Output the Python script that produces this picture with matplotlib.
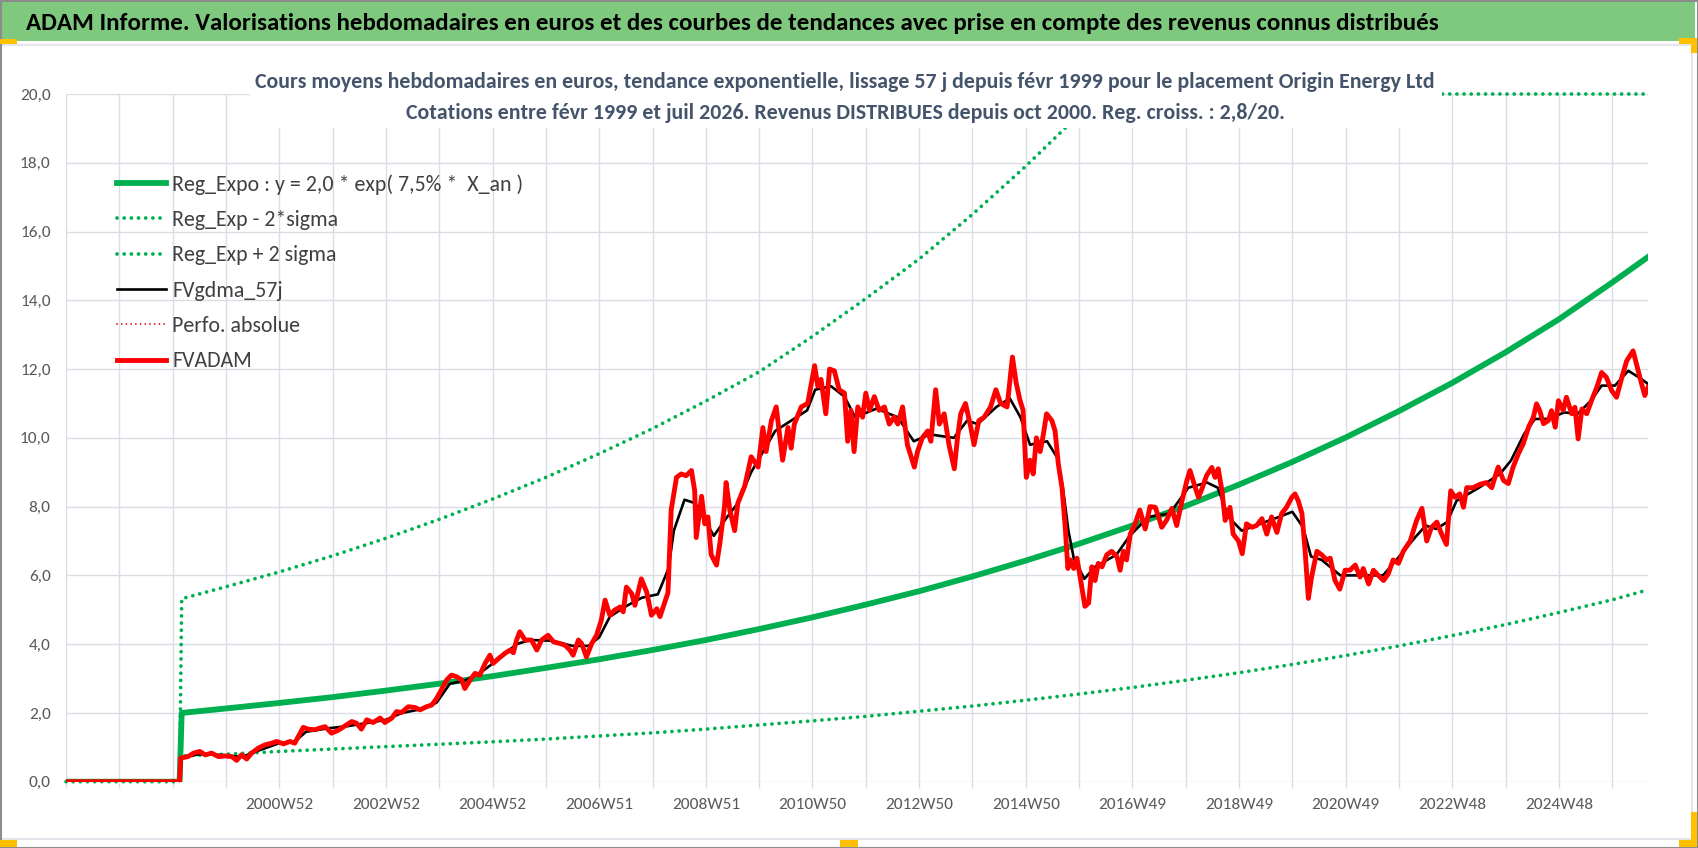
import matplotlib
matplotlib.use('Agg')
import matplotlib.pyplot as plt
from matplotlib import font_manager
from matplotlib.patches import Rectangle
from matplotlib.lines import Line2D

W, H = 1698, 848

# ---- data (x in decimal years) ----
pre_dates = [1997.00, 1999.13]          # series are 0 before the first quote

band_dates = [1999.17, 2000, 2001, 2002, 2003, 2004, 2005, 2006, 2007, 2008, 2009,
              2010, 2011, 2012, 2013, 2014, 2015, 2016, 2017, 2018, 2019, 2020,
              2021, 2022, 2023, 2024, 2025, 2026, 2026.67]
reg_expo = [2.00, 2.13, 2.29, 2.46, 2.65, 2.85, 3.07, 3.31, 3.56, 3.83, 4.12,
            4.44, 4.78, 5.15, 5.54, 5.97, 6.43, 6.92, 7.45, 8.02, 8.64, 9.30,
            10.01, 10.78, 11.60, 12.49, 13.45, 14.52, 15.26]
reg_minus = [0.75, 0.80, 0.88, 0.95, 1.02, 1.09, 1.16, 1.24, 1.33, 1.42, 1.53,
             1.65, 1.77, 1.90, 2.05, 2.20, 2.37, 2.55, 2.74, 2.95, 3.17, 3.41,
             3.67, 3.95, 4.25, 4.57, 4.92, 5.29, 5.58]
reg_plus = [5.32, 5.67, 6.10, 6.57, 7.08, 7.63, 8.22, 8.85, 9.54, 10.27, 11.07,
            11.92, 12.95, 14.05, 15.20, 16.50, 17.90, 19.40, 20.0, 20.0, 20.0, 20.0,
            20.0, 20.0, 20.0, 20.0, 20.0, 20.0, 20.0]

adam_dates = [
    1997.00, 1999.13,
    1999.15, 1999.29, 1999.39, 1999.51, 1999.61, 1999.73, 1999.86, 1999.98,
    2000.11, 2000.20, 2000.29, 2000.39, 2000.48, 2000.61, 2000.73, 2000.86, 2000.95,
    2001.08, 2001.20, 2001.29, 2001.39, 2001.45, 2001.54, 2001.67, 2001.76, 2001.86, 2001.98,
    2002.11, 2002.23, 2002.36, 2002.45, 2002.54, 2002.64, 2002.76, 2002.89, 2002.98,
    2003.11, 2003.20, 2003.29, 2003.42, 2003.54, 2003.64, 2003.76, 2003.86, 2003.95,
    2004.04, 2004.14, 2004.23, 2004.33, 2004.42, 2004.48, 2004.58, 2004.67, 2004.76, 2004.86, 2004.95,
    2005.01, 2005.11, 2005.23, 2005.33, 2005.39, 2005.45, 2005.51, 2005.61, 2005.73, 2005.83, 2005.92,
    2006.04, 2006.14, 2006.26, 2006.36, 2006.45, 2006.51, 2006.61, 2006.67, 2006.76, 2006.86, 2006.95,
    2007.04, 2007.11, 2007.20, 2007.29, 2007.39, 2007.45, 2007.51, 2007.61, 2007.67, 2007.79, 2007.89, 2007.98,
    2008.08, 2008.14, 2008.29, 2008.35, 2008.45, 2008.54, 2008.63, 2008.73, 2008.79, 2008.82, 2008.92, 2008.98,
    2009.04, 2009.10, 2009.20, 2009.26, 2009.35, 2009.38, 2009.45, 2009.54, 2009.60, 2009.73, 2009.85, 2009.98,
    2010.07, 2010.13, 2010.23, 2010.32, 2010.44, 2010.54, 2010.60, 2010.66, 2010.79, 2010.91,
    2011.04, 2011.10, 2011.16, 2011.25, 2011.32, 2011.41, 2011.50, 2011.60, 2011.66, 2011.72, 2011.78, 2011.85, 2011.94,
    2012.00, 2012.07, 2012.16, 2012.25, 2012.35, 2012.44, 2012.53, 2012.60, 2012.69, 2012.78, 2012.91, 2012.97,
    2013.06, 2013.16, 2013.22, 2013.31, 2013.38, 2013.47, 2013.56, 2013.66, 2013.72, 2013.78, 2013.87, 2013.97,
    2014.03, 2014.12, 2014.22, 2014.34, 2014.44, 2014.53, 2014.65, 2014.75, 2014.82, 2014.89, 2014.95,
    2015.01, 2015.08, 2015.14, 2015.20, 2015.27, 2015.33, 2015.39, 2015.49, 2015.55, 2015.61, 2015.68, 2015.74,
    2015.79, 2015.84, 2015.90, 2015.96,
    2016.02, 2016.11, 2016.18, 2016.24, 2016.30, 2016.36, 2016.43, 2016.52, 2016.61, 2016.71, 2016.77, 2016.83,
    2016.89, 2016.96,
    2017.05, 2017.14, 2017.24, 2017.33, 2017.43, 2017.49, 2017.55, 2017.64, 2017.74, 2017.83, 2017.93,
    2018.02, 2018.08, 2018.18, 2018.24, 2018.30, 2018.39, 2018.49, 2018.55, 2018.61, 2018.68, 2018.74, 2018.83,
    2018.89, 2018.99,
    2019.06, 2019.14, 2019.24, 2019.33, 2019.43, 2019.52, 2019.61, 2019.71, 2019.80, 2019.89, 2019.99,
    2020.05, 2020.11, 2020.18, 2020.24, 2020.30, 2020.36, 2020.46, 2020.55, 2020.64, 2020.71, 2020.80, 2020.89,
    2020.99,
    2021.08, 2021.18, 2021.27, 2021.33, 2021.43, 2021.52, 2021.61, 2021.71, 2021.80, 2021.89, 2021.99,
    2022.08, 2022.21, 2022.33, 2022.43, 2022.52, 2022.61, 2022.71, 2022.80, 2022.89, 2022.97,
    2023.05, 2023.14, 2023.21, 2023.27, 2023.39, 2023.52, 2023.64, 2023.74, 2023.80, 2023.86, 2023.96,
    2024.05, 2024.14, 2024.24, 2024.33, 2024.43, 2024.52, 2024.58, 2024.64, 2024.71, 2024.80, 2024.86, 2024.93,
    2024.99,
    2025.08, 2025.14, 2025.24, 2025.30, 2025.36, 2025.43, 2025.52, 2025.61, 2025.71, 2025.80, 2025.89, 2025.99,
    2026.08, 2026.18, 2026.27, 2026.39, 2026.47, 2026.55, 2026.61, 2026.67,
]
adam_values = [
    0.0, 0.0,
    0.69, 0.73, 0.83, 0.88, 0.78, 0.83, 0.73, 0.75,
    0.73, 0.62, 0.78, 0.66, 0.83, 0.98, 1.07, 1.12, 1.17,
    1.10, 1.17, 1.12, 1.41, 1.58, 1.53, 1.51, 1.56, 1.60, 1.41,
    1.50, 1.62, 1.75, 1.70, 1.53, 1.80, 1.72, 1.85, 1.72,
    1.85, 2.04, 2.01, 2.18, 2.16, 2.09, 2.18, 2.23, 2.42,
    2.67, 2.96, 3.10, 3.05, 2.96, 2.71, 2.96, 3.15, 3.10, 3.44, 3.68,
    3.44, 3.58, 3.73, 3.83, 3.75, 4.12, 4.36, 4.12, 4.12, 3.83, 4.12,
    4.26, 4.07, 4.02, 3.97, 3.83, 3.68, 4.12, 4.02, 3.63, 4.02, 4.26,
    4.70, 5.28, 4.84, 4.99, 5.08, 4.94, 5.66, 5.47, 5.13, 5.90, 5.52, 4.84,
    5.03, 4.80, 5.50, 7.90, 8.85, 8.95, 8.90, 9.05, 8.47, 7.10, 8.30, 7.50,
    7.70, 6.60, 6.30, 6.90, 8.00, 8.70, 7.90, 7.30, 8.10, 8.60, 9.45, 9.15,
    10.30, 9.60, 10.50, 10.90, 9.35, 10.30, 9.70, 10.40, 10.90, 11.00,
    12.10, 11.50, 11.70, 10.70, 12.00, 11.95, 11.40, 11.30, 9.90, 10.80, 9.60, 10.90, 10.60,
    11.30, 10.80, 11.20, 10.80, 10.90, 10.40, 10.60, 10.40, 10.90, 9.80, 9.15, 9.60,
    10.00, 10.20, 9.90, 11.40, 10.40, 10.70, 9.80, 9.10, 10.00, 10.70, 11.00, 10.30,
    9.80, 10.50, 10.60, 10.90, 11.40, 11.00, 10.90, 12.35, 11.60, 11.10, 10.80,
    8.85, 9.35, 8.95, 10.00, 9.60, 10.10, 10.70, 10.50, 10.20, 9.25, 8.55, 7.40,
    6.20, 6.45, 6.20, 6.50,
    5.95, 5.10, 5.20, 6.25, 5.85, 6.35, 6.25, 6.60, 6.70, 6.55, 6.15, 6.70,
    6.45, 7.20,
    7.50, 7.90, 7.35, 8.00, 7.98, 7.70, 7.40, 7.60, 7.95, 7.45, 8.17,
    8.75, 9.05, 8.55, 8.27, 8.50, 8.90, 9.14, 8.85, 9.10, 8.46, 7.60, 7.98,
    7.20, 7.00,
    6.63, 7.50, 7.40, 7.45, 7.65, 7.20, 7.70, 7.25, 7.80, 7.98, 8.27,
    8.37, 8.17, 7.80, 6.70, 5.33, 5.95, 6.70, 6.60, 6.45, 6.50, 5.85, 5.60,
    6.15,
    6.15, 6.30, 5.95, 6.20, 5.75, 6.15, 6.00, 5.85, 6.05, 6.45, 6.35,
    6.70, 7.00, 7.60, 7.95, 7.00, 7.40, 7.55, 7.20, 6.90, 8.46,
    8.27, 8.37, 7.98, 8.55, 8.55, 8.65, 8.70, 8.55, 8.86, 9.15, 8.76,
    8.67, 9.15, 9.54, 9.83, 10.31, 10.60, 10.99, 10.79, 10.41, 10.50, 10.79, 10.31,
    11.08,
    10.80, 11.18, 10.70, 10.89, 9.97, 10.84, 10.70, 11.08, 11.47, 11.90, 11.76, 11.37,
    11.18, 11.76, 12.24, 12.53, 12.05, 11.57, 11.23, 11.47,
]

gdma_dates = [1997.00, 1999.13, 1999.17, 1999.50, 1999.90, 2000.30, 2000.60, 2001.00, 2001.30,
              2001.50, 2001.90, 2002.30, 2002.70, 2003.00, 2003.30, 2003.70, 2003.95, 2004.20,
              2004.50, 2004.80, 2005.10, 2005.45, 2005.70, 2006.10, 2006.50, 2006.80, 2007.00,
              2007.20, 2007.50, 2007.80, 2008.10, 2008.30, 2008.40, 2008.60, 2008.80, 2009.15,
              2009.40, 2009.60, 2009.85, 2010.00, 2010.30, 2010.60, 2010.90, 2011.05, 2011.35,
              2011.60, 2011.80, 2012.20, 2012.60, 2012.90, 2013.20, 2013.65, 2013.90, 2014.10,
              2014.45, 2014.70, 2014.90, 2015.08, 2015.40, 2015.60, 2015.70, 2015.80, 2015.90,
              2016.10, 2016.30, 2016.70, 2016.95, 2017.30, 2017.70, 2018.05, 2018.40, 2018.60,
              2018.80, 2019.05, 2019.40, 2019.75, 2020.00, 2020.20, 2020.35, 2020.55, 2020.90,
              2021.30, 2021.70, 2021.95, 2022.30, 2022.50, 2022.70, 2022.90, 2023.08, 2023.50,
              2023.90, 2024.10, 2024.35, 2024.55, 2024.80, 2025.10, 2025.35, 2025.60, 2025.80,
              2026.05, 2026.30, 2026.50, 2026.67]
gdma_values = [0.0, 0.0, 0.70, 0.80, 0.78, 0.72, 0.90, 1.12, 1.18,
               1.45, 1.55, 1.62, 1.72, 1.80, 2.00, 2.12, 2.30, 2.85,
               2.95, 3.20, 3.55, 4.00, 4.12, 4.10, 3.95, 3.95, 4.20,
               4.80, 5.10, 5.35, 5.45, 6.20, 7.30, 8.20, 8.10, 7.15,
               7.70, 8.10, 9.00, 9.40, 10.20, 10.50, 10.80, 11.40, 11.50,
               11.20, 10.60, 10.85, 10.60, 9.90, 10.10, 10.00, 10.50, 10.40,
               10.90, 11.15, 10.60, 9.80, 9.90, 9.40, 8.50, 7.30, 6.50,
               5.90, 6.25, 6.60, 7.15, 7.70, 7.80, 8.55, 8.70, 8.55,
               7.70, 7.30, 7.50, 7.70, 7.85, 7.40, 6.55, 6.45, 6.00,
               6.00, 6.00, 6.45, 7.10, 7.45, 7.35, 7.55, 8.17, 8.55,
               8.96, 9.34, 10.12, 10.55, 10.55, 10.74, 10.70, 11.08, 11.52,
               11.52, 11.95, 11.76, 11.57]

label_years = [2001, 2003, 2005, 2007, 2009, 2011, 2013, 2015, 2017, 2019, 2021, 2023, 2025]
week_labels = ['2000W52', '2002W52', '2004W52', '2006W51', '2008W51', '2010W50', '2012W50',
               '2014W50', '2016W49', '2018W49', '2020W49', '2022W48', '2024W48']

title = ("ADAM Informe. Valorisations hebdomadaires en euros et des courbes de tendances "
         "avec prise en compte des revenus connus distribués")
subtitle1 = ("Cours moyens hebdomadaires en euros, tendance exponentielle, lissage 57 j depuis "
             "févr 1999 pour le placement Origin Energy Ltd")
subtitle2 = ("Cotations entre févr 1999 et juil 2026. Revenus DISTRIBUES depuis oct 2000. "
             "Reg. croiss. : 2,8/20.")
legend_names = ['Reg_Expo : y = 2,0 * exp( 7,5% *  X_an )', 'Reg_Exp - 2*sigma',
                'Reg_Exp + 2 sigma', 'FVgdma_57j', 'Perfo. absolue', 'FVADAM']

# ---- fonts ----
installed = {f.name for f in font_manager.fontManager.ttflist}


def pick_font(*names):
    for n in names:
        if n in installed:
            return n
    return 'DejaVu Sans'


FONT = pick_font('Carlito', 'Lato', 'Open Sans', 'Noto Sans')
plt.rcParams['font.family'] = [FONT, 'DejaVu Sans']

GREEN = '#00B050'
RED = '#FF0000'
GRID = '#DADDE4'
TICK_TXT = '#595959'

fig = plt.figure(figsize=(W / 100, H / 100), dpi=100)
renderer = fig.canvas.get_renderer()


def fit_size(text, width_px, weight='normal'):
    t = fig.text(0, 0, text, fontsize=20, fontweight=weight)
    w = t.get_window_extent(renderer=renderer).width
    t.remove()
    return 20 * width_px / w


def px_rect(x0, y0, x1, y1, **kw):
    # rectangle given in pixel coords measured from the top-left corner
    return Rectangle((x0 / W, 1 - y1 / H), (x1 - x0) / W, (y1 - y0) / H,
                     transform=fig.transFigure, **kw)


# ---- frame, title bar ----
fig.add_artist(px_rect(2, 2, 1695, 41, facecolor='#7FC97F', edgecolor='none', zorder=1))
fig.add_artist(Line2D([2 / W, 1692 / W], [1 - 45 / H] * 2, color='#E3E5EA', lw=1.5))
fig.add_artist(Line2D([1692 / W] * 2, [1 - 45 / H, 1 - 839 / H], color='#E3E5EA', lw=1.5))
fig.add_artist(Line2D([2 / W, 1692 / W], [1 - 839 / H] * 2, color='#E3E5EA', lw=1.5))
fig.add_artist(px_rect(0.5, 0.5, W - 0.5, H - 0.5, facecolor='none', edgecolor='#8C8C8C', lw=1.5, zorder=6))
for r in [(0, 39, 17, 44), (1679, 38, 1697, 44), (1691, 38, 1697, 53), (0, 840, 17, 847),
          (1691, 812, 1697, 847), (1679, 840, 1697, 847), (840, 840, 858, 847)]:
    fig.add_artist(px_rect(*r, facecolor='#FFC000', edgecolor='none', zorder=7))

fig.text(26 / W, 1 - 23 / H, title, ha='left', va='center', color='black',
         fontsize=fit_size(title, 1414, 'bold'), fontweight='bold', zorder=8)

# ---- plot area ----
ax = fig.add_axes([66 / W, 1 - 781.7 / H, (1648 - 66) / W, (781.7 - 94) / H])

dot = (0, (0.01, 1.9))
ax.plot(pre_dates + band_dates, [0.0, 0.0] + reg_expo, color=GREEN, lw=4.2,
        solid_joinstyle='round', label=legend_names[0], zorder=3)
ax.plot(pre_dates + band_dates, [0.0, 0.0] + reg_minus, color=GREEN, lw=2.7, ls=dot,
        dash_capstyle='round', label=legend_names[1], zorder=3)
ax.plot(pre_dates + band_dates, [0.0, 0.0] + reg_plus, color=GREEN, lw=2.7, ls=dot,
        dash_capstyle='round', label=legend_names[2], zorder=3, clip_on=False)
ax.plot(gdma_dates, gdma_values, color='black', lw=1.9, label=legend_names[3], zorder=4)
ax.plot(adam_dates, adam_values, color='#E00000', lw=1.3, ls=(0, (0.01, 2.6)),
        dash_capstyle='round', label=legend_names[4], zorder=4)
ax.plot(adam_dates, adam_values, color=RED, lw=3.5, solid_joinstyle='round',
        label=legend_names[5], zorder=5)

ax.set_xlim(1997.0, 2026.67)
ax.set_ylim(0, 20)
grid_years = list(range(1997, 2027))
ax.set_xticks(grid_years)
lab = dict(zip(label_years, week_labels))
ax.set_xticklabels([lab.get(y, '') for y in grid_years])
yt = list(range(0, 21, 2))
ax.set_yticks(yt)
ax.set_yticklabels([f'{v},0' for v in yt])

tick_fs = fit_size('2018W49', 68)
ax.tick_params(axis='x', length=4.5, width=1, color=GRID, pad=7,
               labelsize=tick_fs, labelcolor=TICK_TXT)
ax.tick_params(axis='y', length=0, pad=11, labelsize=tick_fs, labelcolor=TICK_TXT)
ax.grid(True, color=GRID, lw=1.0)
ax.set_axisbelow(True)
for s in ax.spines.values():
    s.set_visible(False)

leg_fs = fit_size(legend_names[0], 350)
fs_px = leg_fs * 100 / 72
leg = ax.legend(loc='upper left', bbox_to_anchor=(117 / W, 1 - 174 / H),
                bbox_transform=fig.transFigure, frameon=False, fontsize=leg_fs,
                handlelength=49 / fs_px, handletextpad=6 / fs_px,
                labelspacing=(34.2 - 0.86 * fs_px) / fs_px, borderpad=0, borderaxespad=0)
for t in leg.get_texts():
    t.set_color('#404040')

# ---- subtitle with its white box over the plot ----
fig.add_artist(px_rect(250, 55, 1442, 128, facecolor='white', edgecolor='none', zorder=8))
sub_fs = fit_size(subtitle1, 1180, 'bold')
fig.text(845 / W, 1 - 82 / H, subtitle1, ha='center', va='center', color='#44546A',
         fontsize=sub_fs, fontweight='bold', zorder=9)
fig.text(845 / W, 1 - 113 / H, subtitle2, ha='center', va='center', color='#44546A',
         fontsize=sub_fs, fontweight='bold', zorder=9)

fig.savefig('out.png', dpi=100)
